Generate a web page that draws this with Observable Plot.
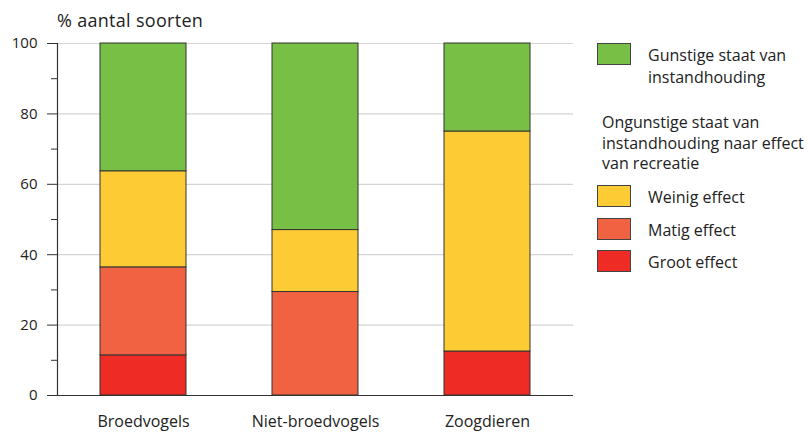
<!DOCTYPE html>
<html>
<head>
<meta charset="utf-8">
<script src="https://cdn.jsdelivr.net/npm/d3@7"></script>
<script src="https://cdn.jsdelivr.net/npm/@observablehq/plot@0.6"></script>
<style>
  body { margin: 0; background: #fff; font-family: "Open Sans", sans-serif; color: #222; }
  #wrap { position: relative; width: 808px; height: 432px; overflow: hidden; }
  #title { position: absolute; left: 57px; top: 8px; font-size: 18px; line-height: 24px; letter-spacing: 0.3px; }
  #chart { position: absolute; left: 0; top: 0; }
  .sw { position: absolute; left: 597px; width: 34px; height: 22px; border: 1px solid #444; box-sizing: border-box; }
  .lab { position: absolute; left: 648px; font-size: 16px; line-height: 22px; white-space: nowrap; }
  .head { position: absolute; left: 602px; top: 112px; font-size: 16px; line-height: 20.5px; white-space: nowrap; }
</style>
</head>
<body>
<div id="wrap">
  <div id="title">% aantal soorten</div>
  <div id="chart"></div>
  <div id="legend"></div>
</div>
<script>
const categories = ["Broedvogels", "Niet-broedvogels", "Zoogdieren"];
const series = ["Groot effect", "Matig effect", "Weinig effect", "Gunstige staat van instandhouding"];
const grootEffect  = [11.4, 0, 12.5];
const matigEffect  = [25.0, 29.4, 0];
const weinigEffect = [27.3, 17.6, 62.5];
const gunstig      = [36.3, 53.0, 25.0];
const colors = ["#ee2b24", "#f06242", "#fdcb33", "#77bf45"];
const majorTicks = [0, 20, 40, 60, 80, 100];
const minorTicks = [10, 30, 50, 70, 90];
const gridTicks = [20, 40, 60, 80, 100];

const valuesBySeries = [grootEffect, matigEffect, weinigEffect, gunstig];
const data = [];
categories.forEach((c, i) => {
  series.forEach((s, j) => {
    const v = valuesBySeries[j][i];
    if (v > 0) data.push({category: c, series: s, value: v});
  });
});

const chart = Plot.plot({
  width: 590,
  height: 432,
  marginTop: 43,
  marginBottom: 37,
  marginLeft: 57,
  marginRight: 17,
  style: {fontFamily: "Open Sans, sans-serif", fontSize: "16px", color: "#222"},
  x: {domain: categories, paddingInner: 0.5, paddingOuter: 0.25, label: null},
  y: {domain: [0, 100], label: null},
  color: {domain: series, range: colors},
  marks: [
    Plot.gridY(gridTicks, {stroke: "#d4d4d4", strokeOpacity: 1, strokeWidth: 1.2}),
    Plot.barY(data, {x: "category", y: "value", fill: "series", stroke: "#333", strokeWidth: 1}),
    Plot.ruleY([0], {stroke: "#333", strokeWidth: 1.2}),
    Plot.frame({anchor: "left", stroke: "#333", strokeWidth: 1.2}),
    Plot.axisY(majorTicks, {tickSize: 10, tickPadding: 10, stroke: "#333", fontSize: 15, label: null}),
    Plot.axisY(minorTicks, {tickSize: 6, tickFormat: () => "", stroke: "#333", label: null}),
    Plot.axisX({tickSize: 0, tickPadding: 20, label: null})
  ]
});
document.getElementById("chart").appendChild(chart);

// legend
const legend = document.getElementById("legend");
function addItem(label, color, top) {
  const sw = document.createElement("div");
  sw.className = "sw";
  sw.style.background = color;
  sw.style.top = top + "px";
  const lab = document.createElement("div");
  lab.className = "lab";
  lab.style.top = (top + 1) + "px";
  lab.innerHTML = label;
  legend.appendChild(sw);
  legend.appendChild(lab);
}
addItem("Gunstige staat van<br>instandhouding", colors[3], 43);
const head = document.createElement("div");
head.className = "head";
head.innerHTML = "Ongunstige staat van<br>instandhouding naar effect<br>van recreatie";
legend.appendChild(head);
addItem(series[2], colors[2], 185);
addItem(series[1], colors[1], 218);
addItem(series[0], colors[0], 250);
</script>
</body>
</html>
